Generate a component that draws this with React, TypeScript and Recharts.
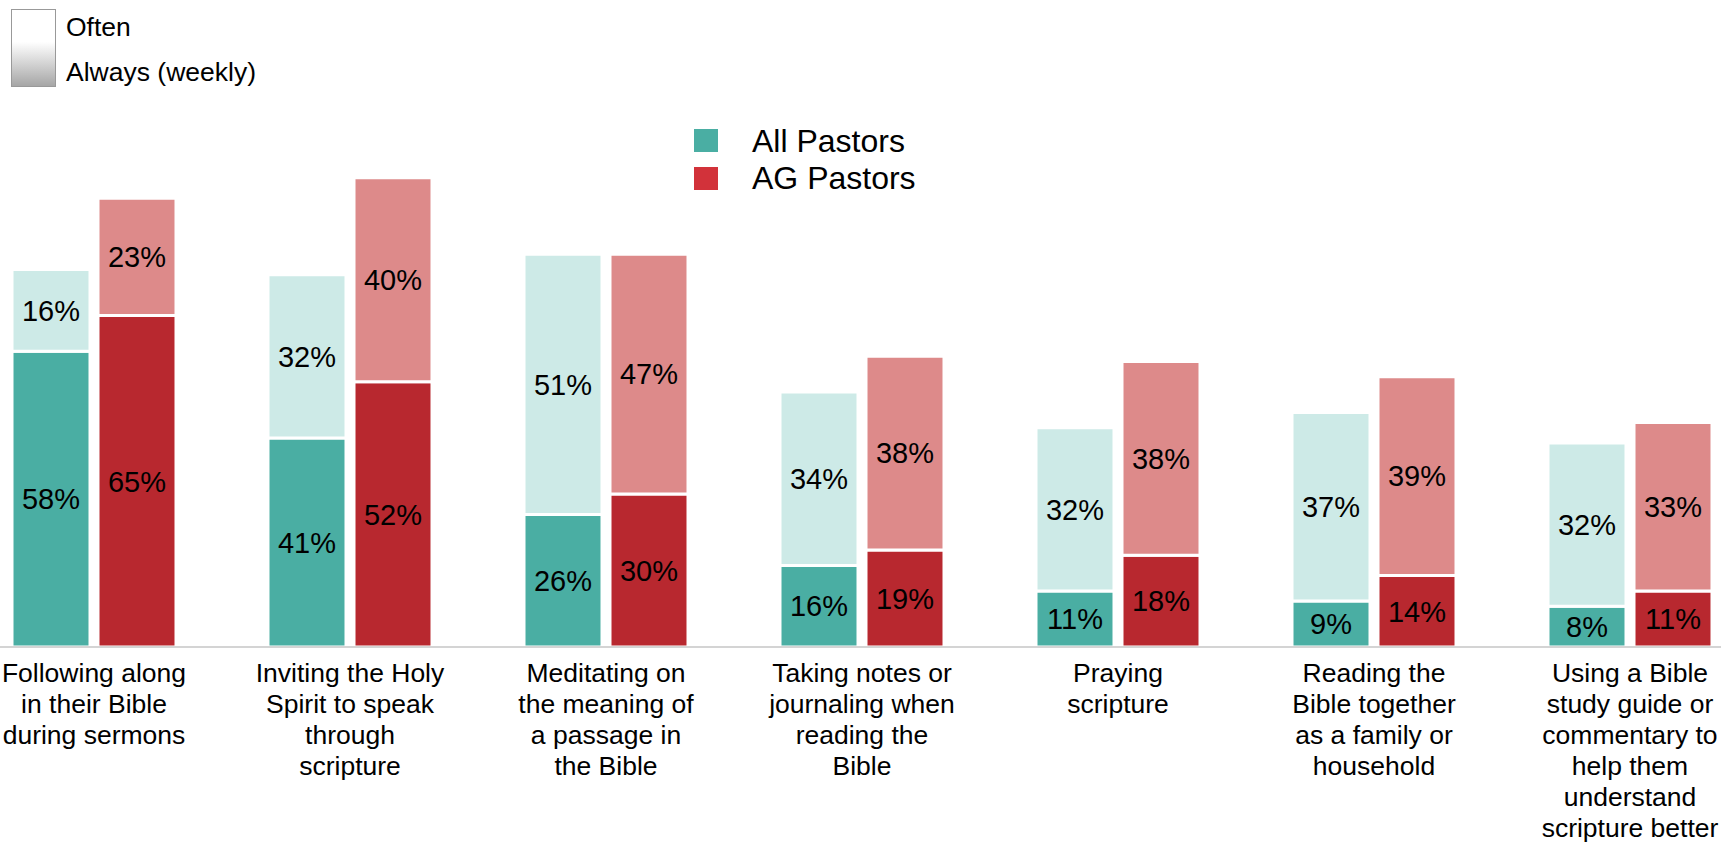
import { Bar, BarChart, LabelList, XAxis, YAxis } from "recharts"

const categoryLines: string[][] = [
  ["Following along", "in their Bible", "during sermons"],
  ["Inviting the Holy", "Spirit to speak", "through", "scripture"],
  ["Meditating on", "the meaning of", "a passage in", "the Bible"],
  ["Taking notes or", "journaling when", "reading the", "Bible"],
  ["Praying", "scripture"],
  ["Reading the", "Bible together", "as a family or", "household"],
  ["Using a Bible", "study guide or", "commentary to", "help them", "understand", "scripture better"],
]

const allAlways = [58, 41, 26, 16, 11, 9, 8]
const allOften = [16, 32, 51, 34, 32, 37, 32]
const agAlways = [65, 52, 30, 19, 18, 14, 11]
const agOften = [23, 40, 47, 38, 38, 39, 33]

const data = categoryLines.map((lines, i) => ({
  category: lines.join(" "),
  allAlways: allAlways[i],
  allOften: allOften[i],
  agAlways: agAlways[i],
  agOften: agOften[i],
}))

const pct = (v: any) => `${v}%`

function CategoryTick({ x, y, index }: any) {
  const lines = categoryLines[index] ?? []
  return (
    <text x={x} y={y} textAnchor="middle" fontSize={26.5} fill="#000">
      {lines.map((line, i) => (
        <tspan key={i} x={x} y={y + 35 + i * 31}>
          {line}
        </tspan>
      ))}
    </text>
  )
}

const labelProps = { position: "center" as const, fill: "#000", stroke: "none", fontSize: 29 }

export default function App() {
  return (
    <div
      style={{
        position: "absolute",
        left: 0,
        top: 0,
        width: 1721,
        height: 845,
        background: "#fff",
        fontFamily: "'Liberation Sans', Arial, sans-serif",
        overflow: "hidden",
      }}
    >
      <BarChart
        width={1721}
        height={845}
        data={data}
        margin={{ top: 137, right: -37, left: -34, bottom: 0 }}
        barSize={78}
        barGap={8}
      >
        <YAxis hide domain={[0, 100]} />
        <XAxis
          dataKey="category"
          interval={0}
          height={198}
          tickLine={false}
          tickSize={0}
          tickMargin={0}
          axisLine={{ stroke: "#d4d4d4", strokeWidth: 2 }}
          tick={<CategoryTick />}
        />
        <Bar dataKey="allAlways" stackId="all" fill="#4aaea3" stroke="#fff" strokeWidth={3} isAnimationActive={false}>
          <LabelList dataKey="allAlways" formatter={pct} {...labelProps} />
        </Bar>
        <Bar dataKey="allOften" stackId="all" fill="#cdeae7" stroke="#fff" strokeWidth={3} isAnimationActive={false}>
          <LabelList dataKey="allOften" formatter={pct} {...labelProps} />
        </Bar>
        <Bar dataKey="agAlways" stackId="ag" fill="#b8282f" stroke="#fff" strokeWidth={3} isAnimationActive={false}>
          <LabelList dataKey="agAlways" formatter={pct} {...labelProps} />
        </Bar>
        <Bar dataKey="agOften" stackId="ag" fill="#dd8a8a" stroke="#fff" strokeWidth={3} isAnimationActive={false}>
          <LabelList dataKey="agOften" formatter={pct} {...labelProps} />
        </Bar>
      </BarChart>

      {/* shading key, top left */}
      <div
        style={{
          position: "absolute",
          left: 11,
          top: 9,
          width: 43,
          height: 76,
          border: "1px solid #999",
          background: "linear-gradient(to bottom, #fff 0%, #fff 42%, #a6a6a6 100%)",
        }}
      />
      <div style={{ position: "absolute", left: 66, top: 13.5, fontSize: 26.5, lineHeight: "26.5px", color: "#000" }}>
        Often
      </div>
      <div style={{ position: "absolute", left: 66, top: 58.5, fontSize: 26.5, lineHeight: "26.5px", color: "#000" }}>
        Always (weekly)
      </div>

      {/* series key */}
      <div style={{ position: "absolute", left: 694, top: 129, width: 24, height: 23, background: "#4aaea3" }} />
      <div style={{ position: "absolute", left: 694, top: 167, width: 24, height: 23, background: "#d2323a" }} />
      <div style={{ position: "absolute", left: 752, top: 124.5, fontSize: 32, lineHeight: "32px", color: "#000" }}>
        All Pastors
      </div>
      <div style={{ position: "absolute", left: 752, top: 162, fontSize: 32, lineHeight: "32px", color: "#000" }}>
        AG Pastors
      </div>
    </div>
  )
}
